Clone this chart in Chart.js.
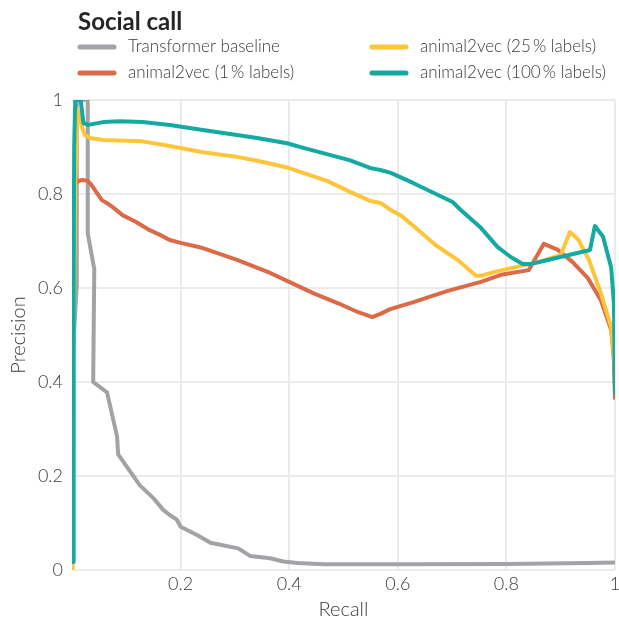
<!DOCTYPE html>
<html>
<head>
<meta charset="utf-8">
<script src="https://cdn.jsdelivr.net/npm/chart.js@4/dist/chart.umd.min.js"></script>
<style>
html,body{margin:0;padding:0;background:#fff;}
#wrap{position:relative;width:619px;height:622px;}
</style>
</head>
<body>
<div id="wrap"><canvas id="c" width="619" height="622"></canvas></div>
<script>
const chartTitle = "Social call";
const xTitle = "Recall";
const yTitle = "Precision";
const xTicks = [0, 0.2, 0.4, 0.6, 0.8, 1];
const yTicks = [0, 0.2, 0.4, 0.6, 0.8, 1];

const seriesNames = ["Transformer baseline", "animal2vec (1\u2009% labels)", "animal2vec (25\u2009% labels)", "animal2vec (100\u2009% labels)"];
const seriesColors = ["#a3a2a7", "#dc6a47", "#fec53a", "#14aaa1"];

const grayRecall = [0.001, 0.002, 0.0085, 0.0088, 0.029, 0.029, 0.041, 0.039, 0.0645, 0.083, 0.085, 0.125, 0.149, 0.168, 0.180, 0.193, 0.2, 0.231, 0.255, 0.306, 0.328, 0.365, 0.389, 0.415, 0.463, 0.6, 0.8, 0.95, 1.0];
const grayPrecision = [0.02, 0.47, 0.6, 1.0, 1.0, 0.716, 0.64, 0.40, 0.378, 0.284, 0.246, 0.18, 0.154, 0.128, 0.117, 0.107, 0.092, 0.074, 0.058, 0.046, 0.030, 0.025, 0.018, 0.015, 0.012, 0.012, 0.013, 0.015, 0.016];

const orangeRecall = [0.003, 0.005, 0.009, 0.018, 0.029, 0.036, 0.042, 0.055, 0.064, 0.075, 0.093, 0.119, 0.143, 0.162, 0.180, 0.2, 0.241, 0.304, 0.365, 0.400, 0.444, 0.489, 0.526, 0.553, 0.568, 0.586, 0.629, 0.692, 0.753, 0.790, 0.841, 0.869, 0.895, 0.922, 0.950, 0.974, 0.993, 0.998, 1.0];
const orangePrecision = [0.78, 0.845, 0.826, 0.83, 0.828, 0.819, 0.809, 0.787, 0.781, 0.772, 0.755, 0.74, 0.723, 0.713, 0.702, 0.696, 0.685, 0.66, 0.632, 0.613, 0.589, 0.568, 0.549, 0.538, 0.545, 0.555, 0.570, 0.594, 0.613, 0.628, 0.638, 0.694, 0.681, 0.655, 0.621, 0.574, 0.511, 0.447, 0.366];

const yellowRecall = [0.001, 0.003, 0.006, 0.01, 0.015, 0.019, 0.024, 0.033, 0.057, 0.13, 0.18, 0.241, 0.304, 0.352, 0.394, 0.438, 0.470, 0.513, 0.550, 0.568, 0.587, 0.605, 0.642, 0.670, 0.710, 0.744, 0.753, 0.784, 0.827, 0.858, 0.900, 0.917, 0.933, 0.952, 0.974, 0.993, 0.998, 1.0];
const yellowPrecision = [0, 0.5, 0.82, 0.98, 0.96, 0.94, 0.925, 0.919, 0.915, 0.912, 0.902, 0.889, 0.879, 0.868, 0.857, 0.840, 0.828, 0.804, 0.785, 0.781, 0.766, 0.755, 0.719, 0.691, 0.66, 0.626, 0.626, 0.636, 0.647, 0.655, 0.670, 0.719, 0.702, 0.66, 0.589, 0.517, 0.453, 0.43];

const tealRecall = [0.002, 0.003, 0.004, 0.006, 0.016, 0.021, 0.03, 0.057, 0.088, 0.13, 0.18, 0.241, 0.341, 0.396, 0.426, 0.511, 0.550, 0.568, 0.587, 0.629, 0.701, 0.716, 0.753, 0.784, 0.808, 0.830, 0.845, 0.954, 0.963, 0.978, 0.993, 0.998, 1.0];
const tealPrecision = [0.017, 0.6, 0.9, 1.0, 1.0, 0.951, 0.947, 0.953, 0.955, 0.953, 0.947, 0.936, 0.919, 0.908, 0.898, 0.872, 0.855, 0.851, 0.845, 0.823, 0.783, 0.766, 0.728, 0.687, 0.666, 0.651, 0.651, 0.681, 0.732, 0.709, 0.643, 0.568, 0.377];

function pts(xs, ys){ return xs.map((x,i)=>({x:x, y:ys[i]})); }

const FONT = "Lato, 'Open Sans', sans-serif";

const legendPlugin = {
  id: 'customLegend',
  afterDraw(chart){
    const ctx = chart.ctx;
    ctx.save();
    ctx.fillStyle = '#262626';
    ctx.font = "bold 24px " + FONT;
    ctx.textBaseline = 'middle';
    ctx.textAlign = 'left';
    ctx.fillText(chartTitle, 78, 22);
    const pos = [[78,47],[78,73],[370,47],[370,73]];
    chart.data.datasets.forEach((ds,i)=>{
      const [x,y] = pos[i];
      ctx.strokeStyle = ds.borderColor;
      ctx.lineWidth = 5;
      ctx.lineCap = 'round';
      ctx.beginPath(); ctx.moveTo(x+2, y); ctx.lineTo(x+36, y); ctx.stroke();
      ctx.fillStyle = '#3a3a3a';
      ctx.font = "300 17px " + FONT;
      ctx.fillText(ds.label, x+50, y);
    });
    ctx.restore();
  }
};

const mk = (i, xs, ys) => ({
  label: seriesNames[i],
  data: pts(xs, ys),
  borderColor: seriesColors[i],
  backgroundColor: seriesColors[i],
  borderWidth: 4,
  pointRadius: 0,
  showLine: true,
  tension: 0,
  borderJoinStyle: 'round',
  borderCapStyle: 'round',
  fill: false,
  order: 3 - i
});

new Chart(document.getElementById('c'), {
  type: 'scatter',
  data: {
    datasets: [
      mk(0, grayRecall, grayPrecision),
      mk(1, orangeRecall, orangePrecision),
      mk(2, yellowRecall, yellowPrecision),
      mk(3, tealRecall, tealPrecision)
    ]
  },
  options: {
    responsive: false,
    animation: false,
    layout: { padding: { top: 100, right: 0, left: 0, bottom: 0 } },
    plugins: { legend: { display: false }, tooltip: { enabled: false }, title: { display: false } },
    scales: {
      x: {
        type: 'linear', min: 0, max: 1,
        afterBuildTicks: (ax) => { ax.ticks = xTicks.map(v => ({value: v})); },
        ticks: {
          callback: (v) => v === 0 ? '' : String(v),
          font: { family: FONT, size: 18, weight: '300' }, color: '#3a3a3a', padding: 3, maxRotation: 0
        },
        grid: { color: (c) => c.tick && c.tick.value === 0 ? 'rgba(0,0,0,0)' : '#ebebeb', lineWidth: 2, drawTicks: false },
        border: { display: false },
        title: { display: true, text: xTitle, font: { family: FONT, size: 20, weight: '300' }, color: '#3a3a3a', padding: { top: 0, bottom: 0 } },
        afterFit: (ax) => { ax.height = 52; ax.paddingRight = 4; ax.paddingLeft = 0; }
      },
      y: {
        type: 'linear', min: 0, max: 1,
        afterBuildTicks: (ax) => { ax.ticks = yTicks.map(v => ({value: v})); },
        ticks: {
          callback: (v) => String(v),
          font: { family: FONT, size: 18, weight: '300' }, color: '#3a3a3a', padding: 9
        },
        grid: { color: '#ebebeb', lineWidth: 2, drawTicks: false },
        border: { display: false },
        title: { display: true, text: yTitle, font: { family: FONT, size: 20, weight: '300' }, color: '#3a3a3a', padding: { top: 7, bottom: 3 } },
        afterFit: (ax) => { ax.width = 72; }
      }
    }
  },
  plugins: [legendPlugin]
});
</script>
</body>
</html>
